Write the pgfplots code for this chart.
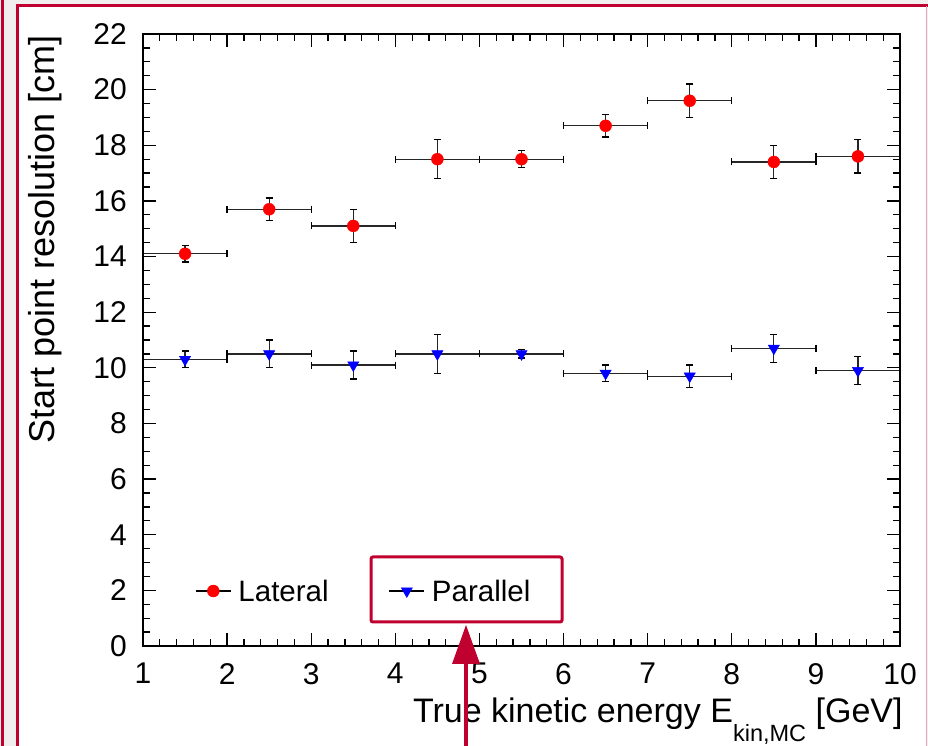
\documentclass[border=0pt]{standalone}
\usepackage{fontspec}
\setmainfont{Liberation Sans}
\usepackage{pgfplots}
\pgfplotsset{compat=1.18}
\definecolor{framec}{HTML}{C0002F}
\definecolor{bggray}{HTML}{F1EFED}
\definecolor{framepink}{HTML}{E6A8B8}

\pgfplotstableread{
x y ex ey
1.5 14.1 0.5 0.3
2.5 15.7 0.5 0.4
3.5 15.1 0.5 0.6
4.5 17.5 0.5 0.7
5.5 17.5 0.5 0.3
6.5 18.7 0.5 0.4
7.5 19.6 0.5 0.6
8.5 17.4 0.5 0.6
9.5 17.6 0.5 0.6
}\lateral

\pgfplotstableread{
x y ex ey
1.5 10.3 0.5 0.3
2.5 10.5 0.5 0.5
3.5 10.1 0.5 0.5
4.5 10.5 0.5 0.7
5.5 10.5 0.5 0.15
6.5 9.8 0.5 0.3
7.5 9.7 0.5 0.4
8.5 10.7 0.5 0.5
9.5 9.9 0.5 0.5
}\parallel

\begin{document}
\begin{tikzpicture}
\useasboundingbox (0pt,0pt) rectangle (928pt,746pt);
\fill[bggray] (0pt,0pt) rectangle (928pt,746pt);
\fill[white] (17.5pt,0pt) rectangle (927pt,740pt);
\begin{axis}[
  scale only axis, width=757pt, height=612pt,
  at={(143pt,100pt)}, anchor=south west,
  xmin=1, xmax=10, ymin=0, ymax=22,
  xtick={1,...,10}, ytick={0,2,...,22},
  minor x tick num=4, minor y tick num=3,
  major tick length=13pt, minor tick length=7pt,
  tick align=inside,
  axis line style={line width=2pt},
  tick style={black, line width=1.3pt},
  /pgf/number format/assume math mode=true,
  tick label style={font=\fontsize{30pt}{36pt}\selectfont, inner sep=0pt},
  xticklabel style={anchor=north, yshift=-17pt},
  yticklabel style={anchor=east, xshift=-16pt},
  every axis y label/.style={at={(axis description cs:-0.1163,1.0038)}, rotate=90, anchor=base east, font=\fontsize{36pt}{42pt}\selectfont},
  every axis x label/.style={at={(axis description cs:1.008,-0.1258)}, anchor=base east, font=\fontsize{34pt}{40pt}\selectfont},
  ylabel={Start point resolution [cm]},
  xlabel={True kinetic energy E\raisebox{-19pt}{\fontsize{23.5pt}{28pt}\selectfont kin,MC} [GeV]},
  legend style={at={(axis cs:1.618,1.977)}, anchor=west, draw=none, fill=none, inner sep=0pt,
    font=\fontsize{29.5pt}{35pt}\selectfont, nodes={inner sep=0pt, text depth=0pt},
    /tikz/every odd column/.append style={column sep=7pt},
    /tikz/every even column/.append style={column sep=60pt}},
  legend columns=2,
  legend cell align=left,
  legend image code/.code={\draw[black, line width=1.3pt] (0pt,0pt) -- (35pt,0pt); \draw[#1] plot coordinates {(17.5pt,0pt)};},
]
\addplot[only marks, mark=*, red, mark size=6pt,
  error bars/.cd, x dir=both, x explicit, y dir=both, y explicit,
  error bar style={black!85, line width=1.3pt},
  error mark options={black, line width=1.3pt, mark size=3.5pt, rotate=90}]
  table[x=x, y=y, x error=ex, y error=ey] {\lateral};
\addlegendentry{Lateral}
\addplot[only marks, mark=triangle*, blue, mark size=6.5pt, mark options={rotate=180},
  error bars/.cd, x dir=both, x explicit, y dir=both, y explicit,
  error bar style={black!85, line width=1.3pt},
  error mark options={black, line width=1.3pt, mark size=3.5pt, rotate=90}]
  table[x=x, y=y, x error=ex, y error=ey] {\parallel};
\addlegendentry{Parallel}
\end{axis}
\draw[framec, line width=3pt] (2.5pt,0pt) -- (2.5pt,746pt);
\draw[framec, line width=3pt] (17.5pt,0pt) -- (17.5pt,740pt) -- (928pt,740pt);
\draw[framepink, line width=1.2pt] (926.8pt,740pt) -- (926.8pt,0pt);
\draw[framec, line width=3pt, rounded corners=2pt] (371pt,124pt) rectangle (562pt,189pt);
\draw[framec, line width=4pt] (466pt,0pt) -- (466pt,84pt);
\fill[framec] (452pt,82pt) -- (480pt,82pt) -- (466pt,121pt) -- cycle;
\end{tikzpicture}
\end{document}
